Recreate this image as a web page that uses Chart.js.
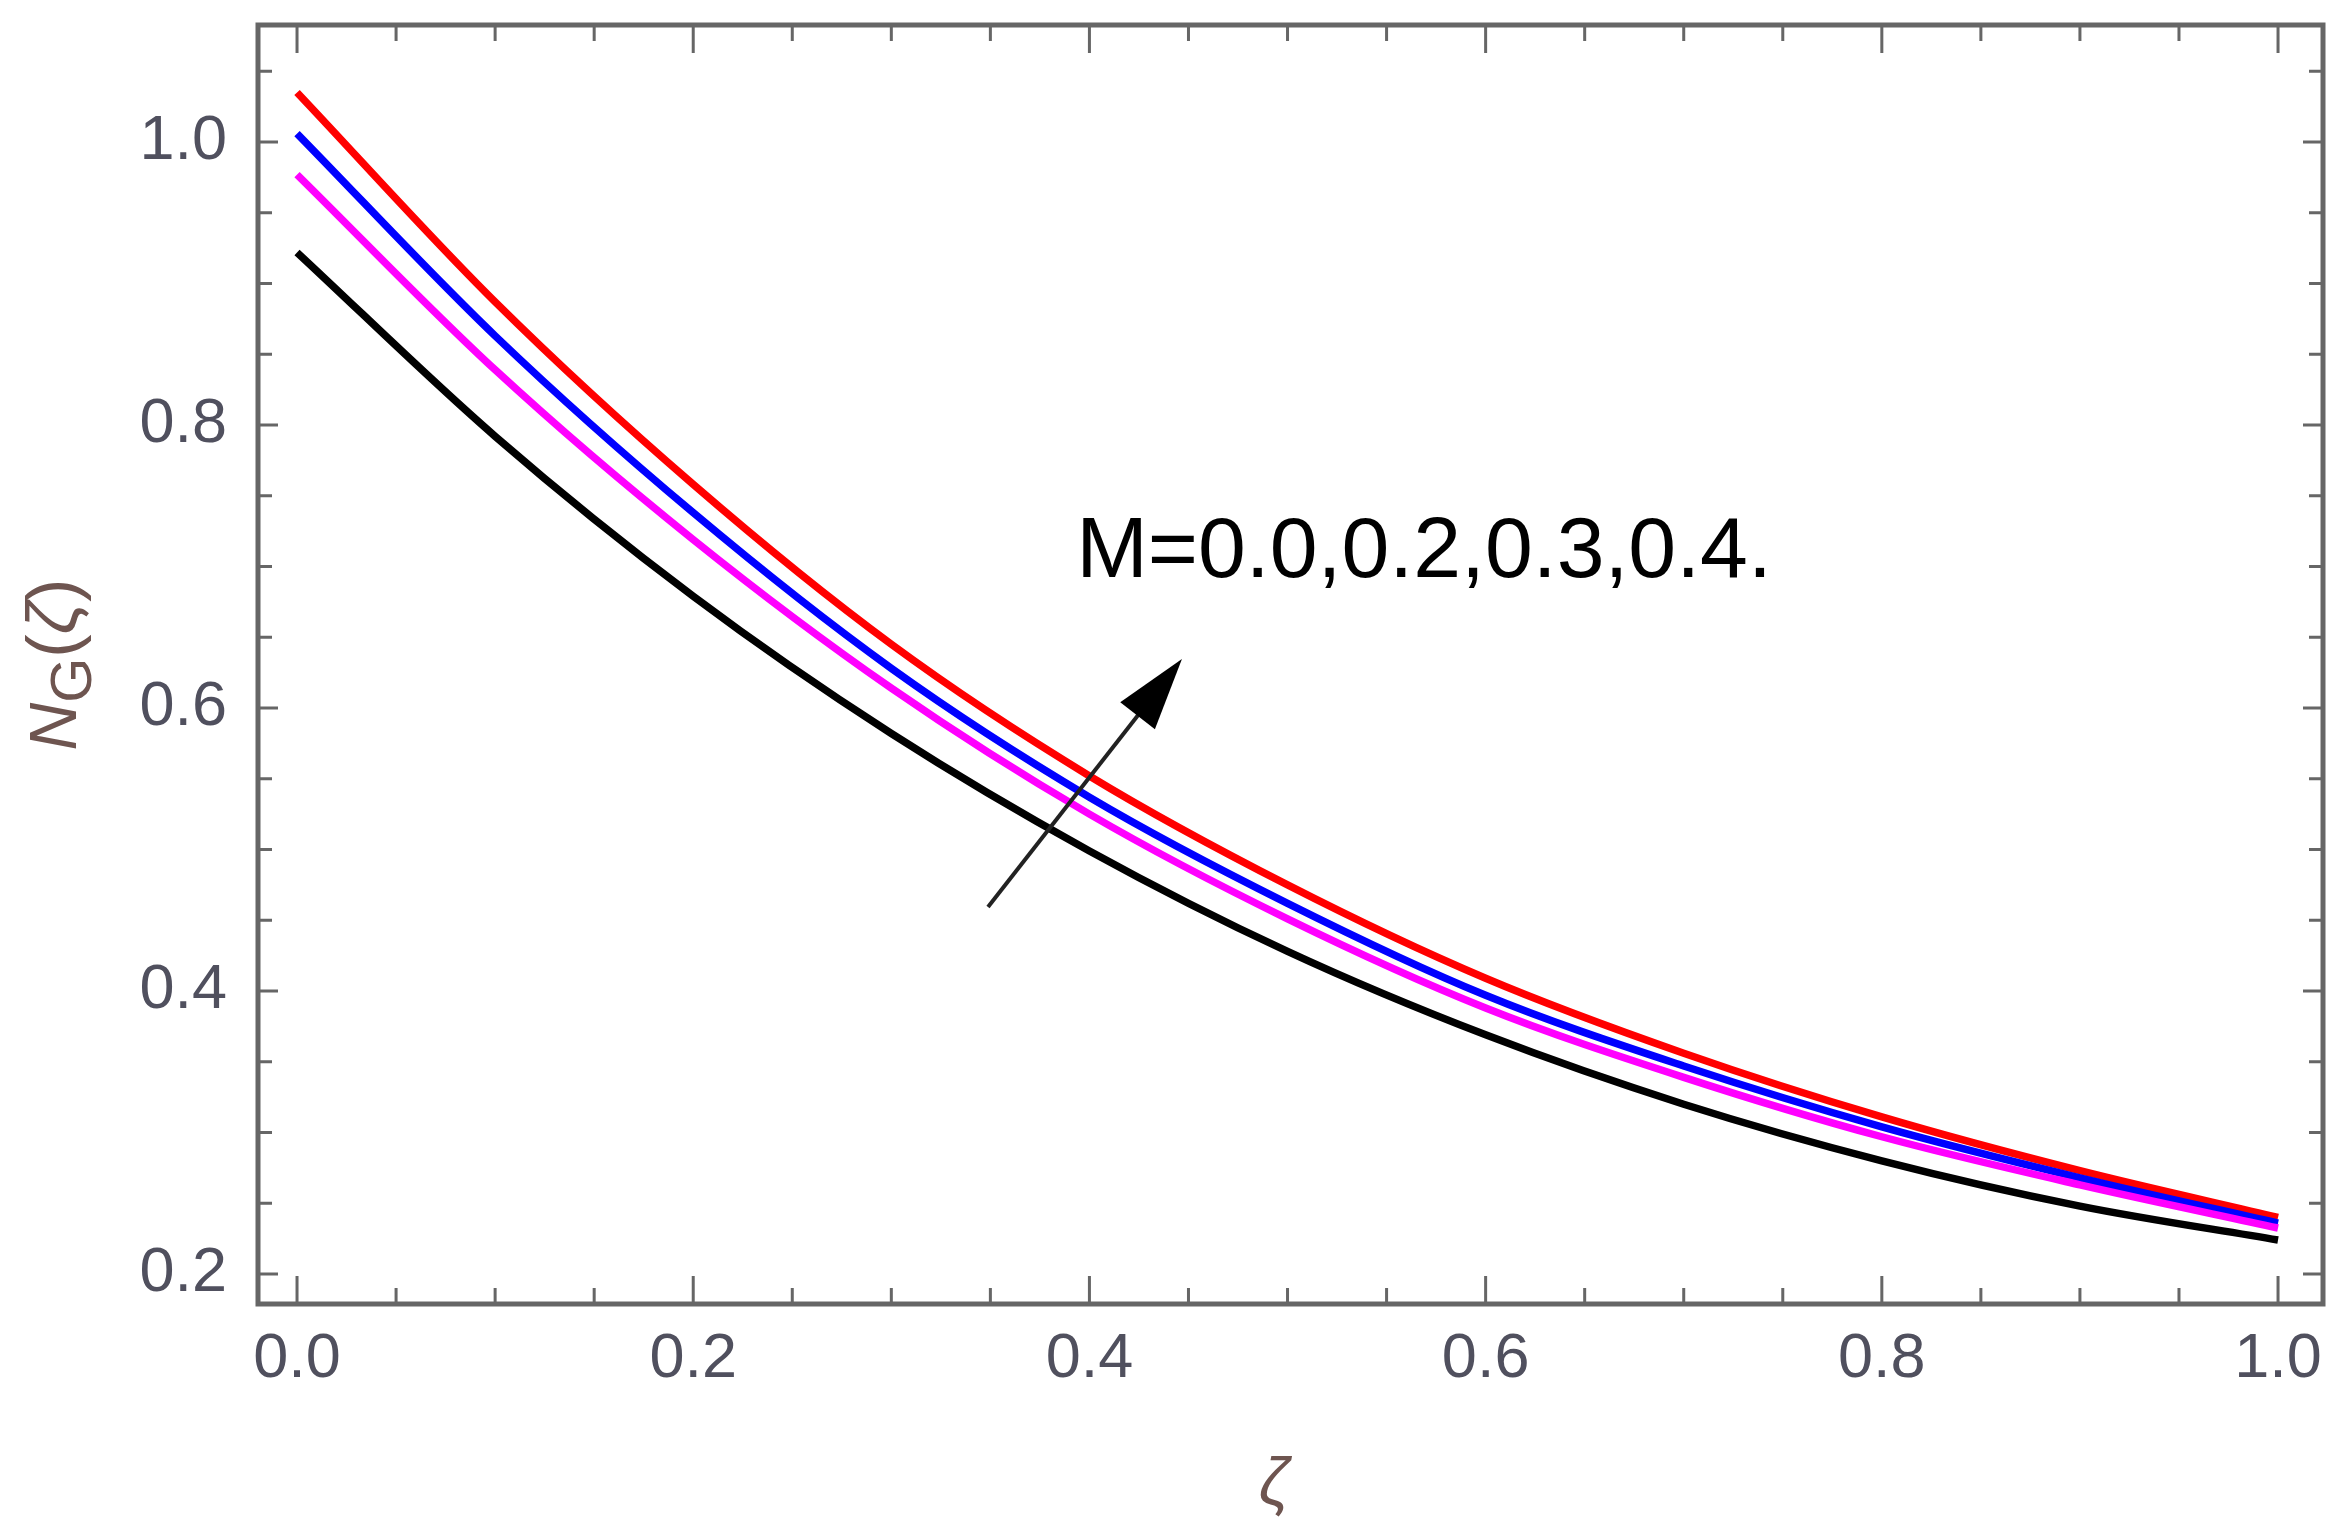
<!DOCTYPE html>
<html>
<head>
<meta charset="utf-8">
<script src="https://cdn.jsdelivr.net/npm/chart.js@4.4.0/dist/chart.umd.min.js"></script>
<style>
  html, body { margin: 0; padding: 0; background: #ffffff; }
  #wrap { width: 2350px; height: 1536px; }
</style>
</head>
<body>
<div id="wrap"><canvas id="ngChart" width="2350" height="1536"></canvas></div>
<script>
// zeta values and N_G(zeta), one array per M
const zeta = [0.0, 0.1, 0.2, 0.3, 0.4, 0.5, 0.6, 0.7, 0.8, 0.9, 1.0];
const ngM00 = [0.922, 0.792, 0.679, 0.582, 0.499, 0.428, 0.369, 0.320, 0.280, 0.248, 0.224];
const ngM02 = [0.977, 0.839, 0.719, 0.614, 0.525, 0.451, 0.388, 0.339, 0.297, 0.263, 0.2325];
const ngM03 = [1.006, 0.863, 0.738, 0.628, 0.537, 0.462, 0.397, 0.347, 0.304, 0.268, 0.236];
const ngM04 = [1.035, 0.887, 0.758, 0.645, 0.552, 0.475, 0.409, 0.356, 0.311, 0.273, 0.240];

const xTicks = [0.0, 0.2, 0.4, 0.6, 0.8, 1.0];
const yTicks = [0.2, 0.4, 0.6, 0.8, 1.0];
const minorStep = 0.05;

const annotationText = "M=0.0,0.2,0.3,0.4.";

const FONT = "'Liberation Sans', Arial, sans-serif";
const TICK_COLOR = "#50505e";
const TITLE_COLOR = "#6e5550";
const FRAME_COLOR = "#666666";

function pts(ys) {
  return zeta.map((x, i) => ({ x: x, y: ys[i] }));
}

function minorValues(min, max) {
  const out = [];
  for (let v = Math.ceil(min / minorStep) * minorStep; v <= max + 1e-9; v += minorStep) {
    out.push(Math.round(v * 100) / 100);
  }
  return out;
}

// Mathematica-style frame with inward ticks on all four sides
const framePlugin = {
  id: "frameTicks",
  afterDraw(chart) {
    const { ctx, chartArea: a, scales: { x, y } } = chart;
    ctx.save();
    ctx.strokeStyle = FRAME_COLOR;
    ctx.lineWidth = 3;
    ctx.lineCap = "butt";

    minorValues(x.min, x.max).forEach(v => {
      const major = xTicks.some(t => Math.abs(t - v) < 1e-6);
      const len = major ? 28 : 16;
      const px = x.getPixelForValue(v);
      ctx.beginPath();
      ctx.moveTo(px, a.bottom); ctx.lineTo(px, a.bottom - len);
      ctx.moveTo(px, a.top); ctx.lineTo(px, a.top + len);
      ctx.stroke();
    });
    minorValues(y.min, y.max).forEach(v => {
      const major = yTicks.some(t => Math.abs(t - v) < 1e-6);
      const len = major ? 20 : 14;
      const py = y.getPixelForValue(v);
      ctx.beginPath();
      ctx.moveTo(a.left, py); ctx.lineTo(a.left + len, py);
      ctx.moveTo(a.right, py); ctx.lineTo(a.right - len, py);
      ctx.stroke();
    });

    ctx.lineWidth = 5;
    ctx.strokeRect(a.left, a.top, a.right - a.left, a.bottom - a.top);
    ctx.restore();
  }
};

// axis titles, label and arrow
const annotatePlugin = {
  id: "annotate",
  afterDraw(chart) {
    const { ctx, chartArea: a, scales: { x, y } } = chart;
    ctx.save();

    // N_G(zeta), rotated
    const parts = [
      { t: "N", font: "italic 66px " + FONT, dy: 0 },
      { t: "G", font: "58px " + FONT, dy: 15 },
      { t: "(", font: "70px " + FONT, dy: 0 },
      { t: "\u03B6", font: "italic 70px " + FONT, dy: 0 },
      { t: ")", font: "70px " + FONT, dy: 0 }
    ];
    let total = 0;
    parts.forEach(p => { ctx.font = p.font; p.w = ctx.measureText(p.t).width; total += p.w; });
    ctx.translate(76, (a.top + a.bottom) / 2);
    ctx.rotate(-Math.PI / 2);
    ctx.fillStyle = TITLE_COLOR;
    ctx.textBaseline = "alphabetic";
    ctx.textAlign = "left";
    let cx = -total / 2;
    parts.forEach(p => { ctx.font = p.font; ctx.fillText(p.t, cx, p.dy); cx += p.w; });
    ctx.setTransform(1, 0, 0, 1, 0, 0);

    // zeta under the x axis
    ctx.font = "italic 66px " + FONT;
    ctx.textAlign = "center";
    ctx.textBaseline = "middle";
    ctx.fillText("\u03B6", x.getPixelForValue(0.4932), 1487);

    // annotation text
    ctx.fillStyle = "#000000";
    ctx.font = "86px " + FONT;
    ctx.textAlign = "left";
    ctx.textBaseline = "alphabetic";
    ctx.fillText(annotationText, x.getPixelForValue(0.3933), y.getPixelForValue(0.6926));

    // arrow
    const x0 = x.getPixelForValue(0.3488), y0 = y.getPixelForValue(0.4594);
    const x1 = x.getPixelForValue(0.4467), y1 = y.getPixelForValue(0.6346);
    const ang = Math.atan2(y1 - y0, x1 - x0);
    const headLen = 72, headHalf = 22;
    const bx = x1 - headLen * Math.cos(ang), by = y1 - headLen * Math.sin(ang);
    ctx.strokeStyle = "#222222";
    ctx.lineWidth = 4;
    ctx.beginPath();
    ctx.moveTo(x0, y0);
    ctx.lineTo(bx + 8 * Math.cos(ang), by + 8 * Math.sin(ang));
    ctx.stroke();
    ctx.fillStyle = "#000000";
    ctx.beginPath();
    ctx.moveTo(x1, y1);
    ctx.lineTo(bx + headHalf * Math.sin(ang), by - headHalf * Math.cos(ang));
    ctx.lineTo(bx - headHalf * Math.sin(ang), by + headHalf * Math.cos(ang));
    ctx.closePath();
    ctx.fill();

    ctx.restore();
  }
};

const ctx = document.getElementById("ngChart").getContext("2d");

const ngChart = new Chart(ctx, {
  type: "line",
  data: {
    datasets: [
      { label: "M=0.0", data: pts(ngM00), borderColor: "#000000" },
      { label: "M=0.2", data: pts(ngM02), borderColor: "#ff00ff" },
      { label: "M=0.3", data: pts(ngM03), borderColor: "#0000ff" },
      { label: "M=0.4", data: pts(ngM04), borderColor: "#ff0000" }
    ]
  },
  options: {
    responsive: false,
    animation: false,
    devicePixelRatio: 1,
    layout: { padding: { top: 25, right: 27, left: 0, bottom: 0 } },
    elements: {
      point: { radius: 0 },
      line: { borderWidth: 7.5, cubicInterpolationMode: "monotone", fill: false }
    },
    plugins: {
      legend: { display: false },
      tooltip: { enabled: false }
    },
    scales: {
      x: {
        type: "linear",
        min: -0.0197,
        max: 1.0227,
        afterBuildTicks: s => { s.ticks = xTicks.map(v => ({ value: v })); },
        afterFit: s => { s.height = 232; s.paddingLeft = 0; s.paddingRight = 0; },
        grid: { display: false, drawTicks: false },
        border: { display: false },
        ticks: {
          padding: 18,
          color: TICK_COLOR,
          font: { family: FONT, size: 63 },
          maxRotation: 0,
          autoSkip: false,
          callback: v => Number(v).toFixed(1)
        }
      },
      y: {
        type: "linear",
        min: 0.1788,
        max: 1.0827,
        afterBuildTicks: s => { s.ticks = yTicks.map(v => ({ value: v })); },
        afterFit: s => { s.width = 258; s.paddingTop = 0; s.paddingBottom = 0; },
        grid: { display: false, drawTicks: false },
        border: { display: false },
        ticks: {
          padding: 31,
          color: TICK_COLOR,
          font: { family: FONT, size: 63 },
          autoSkip: false,
          callback: v => Number(v).toFixed(1)
        }
      }
    }
  },
  plugins: [framePlugin, annotatePlugin]
});
</script>
</body>
</html>
